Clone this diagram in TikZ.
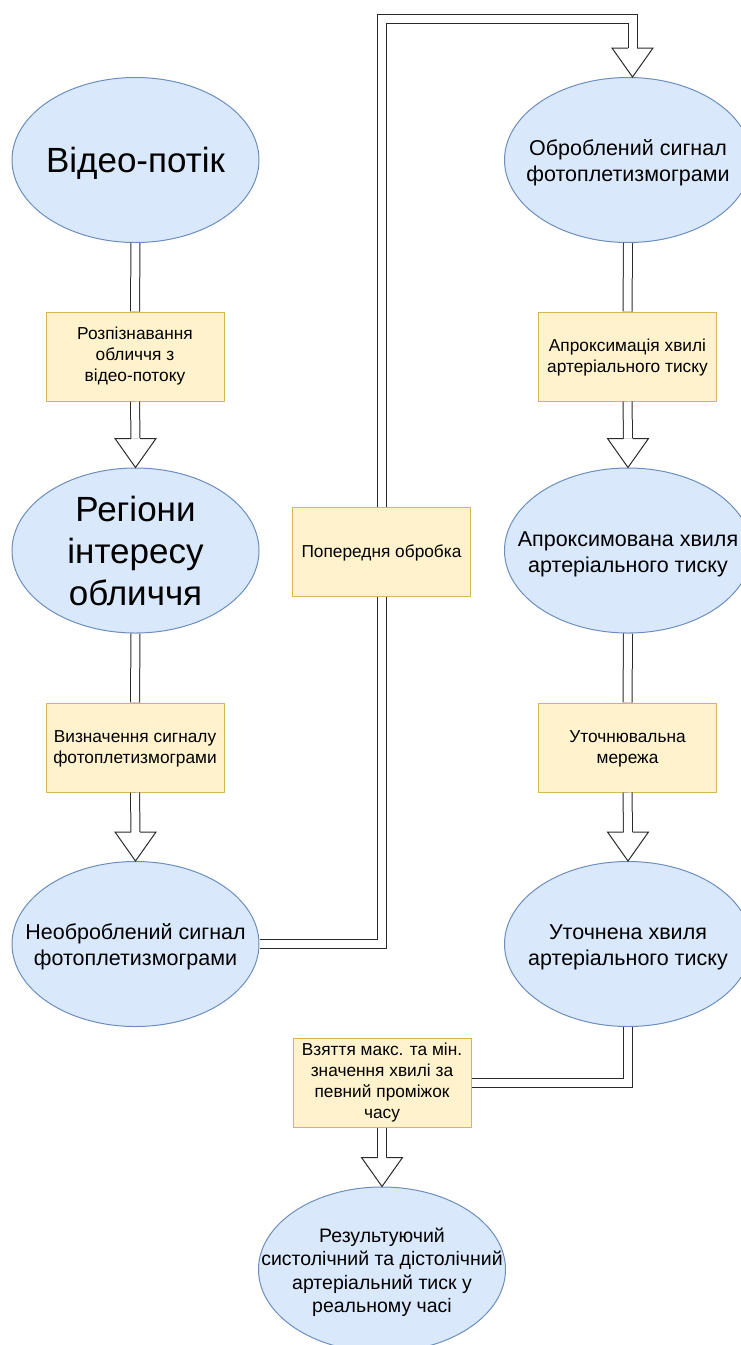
\documentclass[tikz,border=0pt]{standalone}
\usepackage{fontspec}
\setmainfont{Liberation Sans}
\usetikzlibrary{shapes.geometric,calc}

\definecolor{ellfill}{HTML}{DAE8FC}
\definecolor{elldraw}{HTML}{6C8EBF}
\definecolor{boxfill}{HTML}{FFF2CC}
\definecolor{boxdraw}{HTML}{D6B656}
\definecolor{pen}{HTML}{2B2B2B}

% centred block of lines that takes no room, so the shape size is set only by the style;
% the optional argument lowers the block a little
\newcommand\stacktext[2][0pt]{\smash{\makebox[0pt]{\raisebox{\dimexpr(\depth-\height)/2-#1\relax}{\begin{tabular}{@{}c@{}}#2\end{tabular}}}}}

% hollow arrow head whose tip is at the given point (heads point down the page)
\newcommand\headat[1]{%
  \fill[white] ($(#1)+(-20.5,-29)$) -- (#1) -- ($(#1)+(20.5,-29)$) -- cycle;
  \draw[pen, line width=1pt, line join=miter]
    ($(#1)+(-4.5,-29)$) -- ($(#1)+(-20.5,-29)$) -- (#1) -- ($(#1)+(20.5,-29)$) -- ($(#1)+(4.5,-29)$);}

\tikzset{
  state/.style={ellipse, draw=elldraw, fill=ellfill, line width=1pt,
    minimum width=247pt, minimum height=165pt, inner sep=0pt, text=black},
  big/.style={font=\fontsize{35}{42}\selectfont},
  mid/.style={font=\fontsize{21.5}{26}\selectfont},
  small/.style={font=\fontsize{19.5}{23.4}\selectfont},
  stepbox/.style={rectangle, draw=boxdraw, fill=boxfill, line width=1pt,
    minimum width=178pt, minimum height=89pt, inner sep=0pt, text=black,
    font=\fontsize{17.3}{21}\selectfont},
  link/.style={draw=pen, line width=1pt, double=white, double distance=8pt, line join=miter},
}

\begin{document}
\begin{tikzpicture}[x=1pt, y=-1pt]
\useasboundingbox (0,0) rectangle (741,1345);
\clip (0,0) rectangle (741,1345);

% left column
\node[state, big] (video) at (135.5,160) {\stacktext[4pt]{Відео-потік}};
\node[stepbox] (face) at (135,356.5) {\stacktext{Розпізнавання\\обличчя з\\відео-потоку}};
\node[state, big] (roi) at (135.5,550.5) {\stacktext[4.5pt]{Регіони\\інтересу\\обличчя}};
\node[stepbox] (ppgdet) at (135,747.5) {\stacktext[1pt]{Визначення сигналу\\фотоплетизмограми}};
\node[state, mid] (raw) at (135.5,944) {\stacktext[3.5pt]{Необроблений сигнал\\фотоплетизмограми}};

% middle
\node[stepbox] (prep) at (381.5,552) {\stacktext[1pt]{Попередня обробка}};

% right column
\node[state, mid] (clean) at (628,160) {\stacktext[3.5pt]{Оброблений сигнал\\фотоплетизмограми}};
\node[stepbox] (approx) at (627.5,356.5) {\stacktext[1pt]{Апроксимація хвилі\\артеріального тиску}};
\node[state, mid] (wave) at (628,550.5) {\stacktext[3.5pt]{Апроксимована хвиля\\артеріального тиску}};
\node[stepbox] (refine) at (627.5,747.5) {\stacktext[1pt]{Уточнювальна\\мережа}};
\node[state, mid] (fine) at (628,944) {\stacktext[3.5pt]{Уточнена хвиля\\артеріального тиску}};

% bottom
\node[stepbox] (minmax) at (382,1082.5) {\stacktext{Взяття макс. та мін.\\значення хвилі за\\певний проміжок\\часу}};
\node[state, small] (result) at (382,1269.5) {\stacktext[3.5pt]{Результуючий\\систолічний та дістолічний\\артеріальний тиск у\\реальному часі}};

% left column links
\draw[link] (video.south) -- (face.north);
\draw[link] (face.south) -- ($(roi.north)+(0,-29)$);
\headat{roi.north}
\draw[link] (roi.south) -- (ppgdet.north);
\draw[link] (ppgdet.south) -- ($(raw.north)+(0,-29)$);
\headat{raw.north}

% through the pre-processing step to the right column
\draw[link] (raw.east) -| (prep.south);
\coordinate (cleanin) at ($(clean.north)+(4.5,0)$);
\draw[link] (prep.north) |- ($(cleanin)+(0,-58)$) -- ($(cleanin)+(0,-29)$);
\headat{cleanin}

% right column links
\draw[link] (clean.south) -- (approx.north);
\draw[link] (approx.south) -- ($(wave.north)+(0,-29)$);
\headat{wave.north}
\draw[link] (wave.south) -- (refine.north);
\draw[link] (refine.south) -- ($(fine.north)+(0,-29)$);
\headat{fine.north}

% down to the result
\draw[link] (fine.south) |- (minmax.east);
\draw[link] (minmax.south) -- ($(result.north)+(0,-29)$);
\headat{result.north}
\end{tikzpicture}
\end{document}
